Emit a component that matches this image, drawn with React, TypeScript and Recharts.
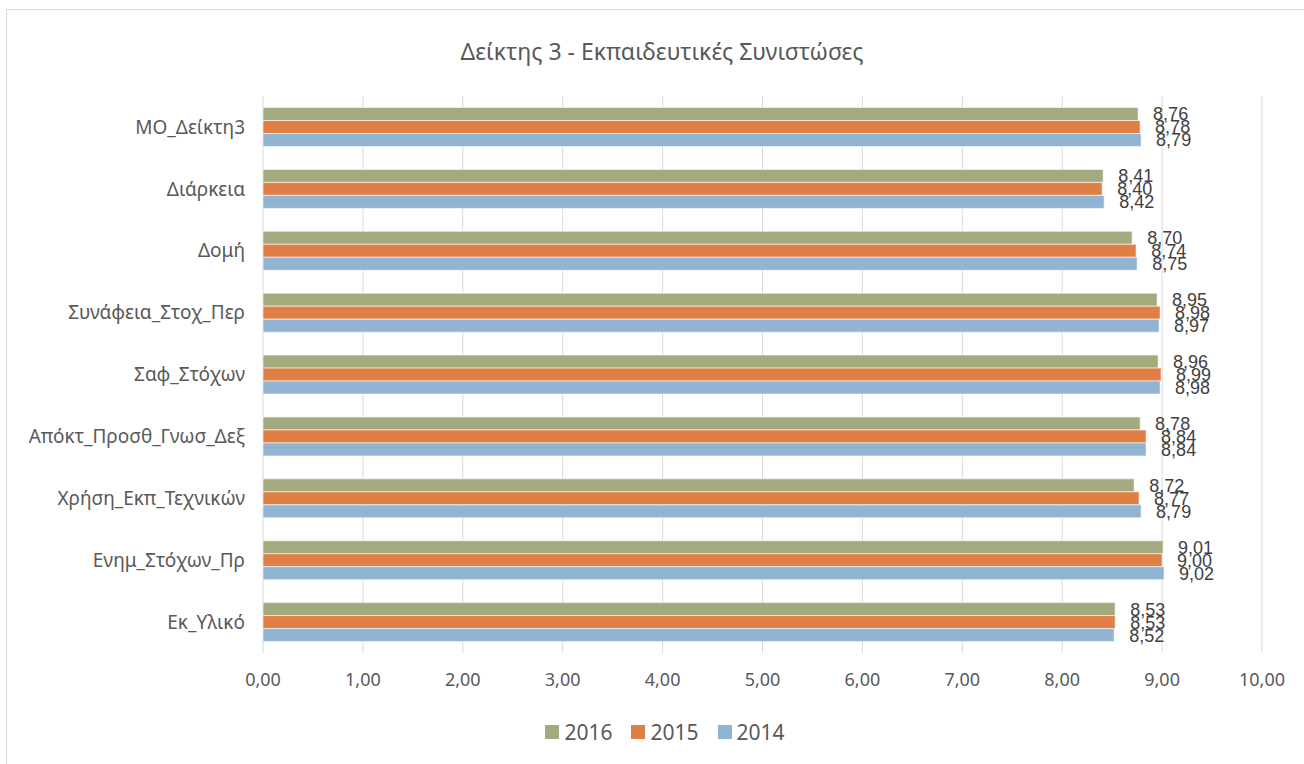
import React from "react";
import {
  BarChart,
  Bar,
  XAxis,
  YAxis,
  CartesianGrid,
  LabelList,
} from "recharts";

// categories top to bottom
const categories = [
  "ΜΟ_Δείκτη3",
  "Διάρκεια",
  "Δομή",
  "Συνάφεια_Στοχ_Περ",
  "Σαφ_Στόχων",
  "Απόκτ_Προσθ_Γνωσ_Δεξ",
  "Χρήση_Εκπ_Τεχνικών",
  "Ενημ_Στόχων_Πρ",
  "Εκ_Υλικό",
];

const values2016 = [8.76, 8.41, 8.7, 8.95, 8.96, 8.78, 8.72, 9.01, 8.53];
const values2015 = [8.78, 8.4, 8.74, 8.98, 8.99, 8.84, 8.77, 9.0, 8.53];
const values2014 = [8.79, 8.42, 8.75, 8.97, 8.98, 8.84, 8.79, 9.02, 8.52];

const xTicks = [0, 1, 2, 3, 4, 5, 6, 7, 8, 9, 10];

const series = [
  { key: "y2016", name: "2016", color: "#A3AA7E" },
  { key: "y2015", name: "2015", color: "#DF7E45" },
  { key: "y2014", name: "2014", color: "#92B4D3" },
];

const data = categories.map((name, i) => ({
  name,
  y2016: values2016[i],
  y2015: values2015[i],
  y2014: values2014[i],
}));

const fmt = (v: number) => v.toFixed(2).replace(".", ",");

const FONT = "'Noto Sans', 'Open Sans', sans-serif";

export default function App() {
  return (
    <div
      style={{
        position: "absolute",
        left: 0,
        top: 0,
        width: 1304,
        height: 764,
        overflow: "hidden",
        background: "#fff",
      }}
    >
      <div
        style={{
          position: "absolute",
          left: 6,
          top: 9,
          width: 1400,
          height: 900,
          border: "1px solid #d9d9d9",
        }}
      />
      <div
        style={{
          position: "absolute",
          left: 0,
          width: 1324,
          top: 35,
          textAlign: "center",
          fontFamily: FONT,
          fontSize: 23,
          color: "#595959",
        }}
      >
        Δείκτης 3 - Εκπαιδευτικές Συνιστώσες
      </div>
      <div style={{ position: "absolute", left: 0, top: 0 }}>
        <BarChart
          width={1304}
          height={764}
          data={data}
          layout="vertical"
          margin={{ top: 96, right: 42, left: 0, bottom: 81 }}
          barCategoryGap="18.6%"
          barGap={0}
        >
          <CartesianGrid horizontal={false} stroke="#d9d9d9" />
          <XAxis
            type="number"
            domain={[0, 10]}
            ticks={xTicks}
            tickFormatter={fmt}
            axisLine={false}
            tickLine={false}
            tickMargin={14}
            height={30}
            tick={{ fill: "#595959", fontSize: 18, fontFamily: FONT }}
          />
          <YAxis
            type="category"
            dataKey="name"
            width={263}
            axisLine={false}
            tickLine={false}
            tickMargin={12}
            interval={0}
            tick={{ fill: "#595959", fontSize: 19, fontFamily: FONT }}
          />
          {series.map((s) => (
            <Bar
              key={s.key}
              dataKey={s.key}
              name={s.name}
              fill={s.color}
              stroke="#ffffff"
              strokeWidth={0.6}
              isAnimationActive={false}
            >
              <LabelList
                dataKey={s.key}
                position="right"
                offset={15}
                formatter={(v: any) => fmt(Number(v))}
                style={{
                  fill: "#404040",
                  fontSize: 18,
                  fontFamily: "'Liberation Sans Narrow', 'Arial Narrow', sans-serif",
                }}
              />
            </Bar>
          ))}
        </BarChart>
      </div>
      <div
        style={{
          position: "absolute",
          left: 0,
          top: 718,
          width: 1330,
          display: "flex",
          justifyContent: "center",
          gap: 19,
        }}
      >
        {series.map((s) => (
          <div key={s.key} style={{ display: "flex", alignItems: "center" }}>
            <span
              style={{
                display: "inline-block",
                width: 14,
                height: 14,
                background: s.color,
                marginRight: 5,
              }}
            />
            <span style={{ fontFamily: FONT, fontSize: 21, color: "#595959" }}>
              {s.name}
            </span>
          </div>
        ))}
      </div>
    </div>
  );
}
